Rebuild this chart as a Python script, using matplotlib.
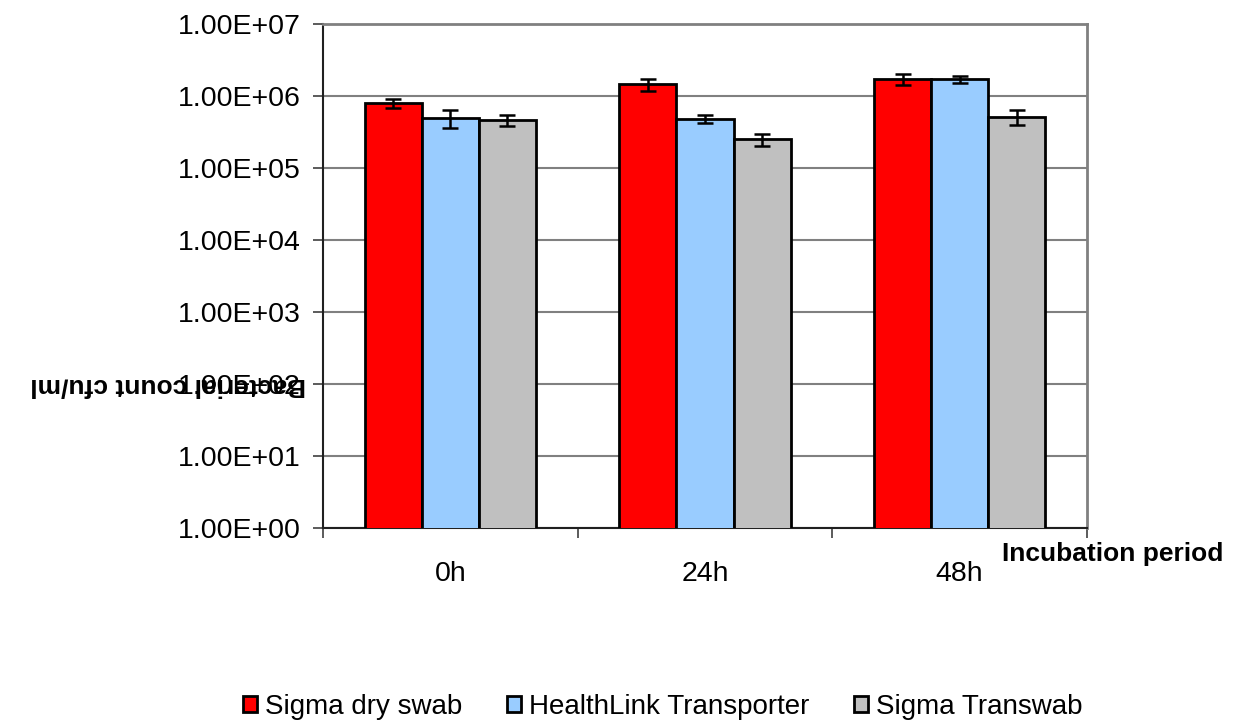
import numpy as np
import matplotlib.pyplot as plt
from matplotlib.ticker import FixedLocator, FuncFormatter, NullFormatter

plt.rcParams['font.family'] = ['Liberation Sans', 'DejaVu Sans']

# data
periods = ["0h", "24h", "48h"]
series = ["Sigma dry swab", "HealthLink Transporter", "Sigma Transwab"]
dry_swab = [8.0e5, 1.45e6, 1.72e6]
healthlink = [5.0e5, 4.8e5, 1.7e6]
transwab = [4.6e5, 2.5e5, 5.1e5]
dry_swab_err = [1.1e5, 2.7e5, 2.8e5]
healthlink_err = [1.4e5, 0.6e5, 1.8e5]
transwab_err = [0.8e5, 0.45e5, 1.2e5]
colors = ["#FF0000", "#99CCFF", "#C0C0C0"]

fig = plt.figure(figsize=(12.44, 7.24), dpi=100)
ax = fig.add_axes([323 / 1244, 1 - 528 / 724, (1087 - 323) / 1244, (528 - 24) / 724])

x = np.arange(len(periods))
width = 0.224
values = [dry_swab, healthlink, transwab]
errors = [dry_swab_err, healthlink_err, transwab_err]
for i, (vals, errs) in enumerate(zip(values, errors)):
    ax.bar(x + (i - 1) * width, vals, width, color=colors[i], edgecolor="black",
           linewidth=2, label=series[i], zorder=3)
    ax.errorbar(x + (i - 1) * width, vals, yerr=errs, fmt="none", ecolor="black",
                elinewidth=1.8, capsize=6, capthick=1.8, zorder=4)

ax.set_yscale("log")
ax.set_ylim(1, 1e7)
ax.set_xlim(-0.5, 2.5)
ax.yaxis.set_major_locator(FixedLocator([10.0 ** k for k in range(8)]))
ax.yaxis.set_minor_formatter(NullFormatter())
ax.yaxis.set_minor_locator(FixedLocator([]))
ax.yaxis.set_major_formatter(FuncFormatter(lambda v, p: "1.00E+%02d" % round(np.log10(v))))
ax.grid(axis="y", color="#808080", linewidth=1.5, zorder=0)

ax.xaxis.set_major_locator(FixedLocator([-0.5, 0.5, 1.5, 2.5]))
ax.xaxis.set_major_formatter(NullFormatter())
ax.xaxis.set_minor_locator(FixedLocator(x))
ax.set_xticklabels(periods, minor=True)
ax.tick_params(axis="x", which="major", direction="out", length=7, width=1.2, color="#404040")
ax.tick_params(axis="x", which="minor", length=0, pad=24, labelsize=20.5)
ax.tick_params(axis="y", direction="out", length=7, width=1.2, pad=9, labelsize=20.5, color="#404040")

for side in ["top", "right"]:
    ax.spines[side].set_color("#808080")
    ax.spines[side].set_linewidth(2)
for side in ["left", "bottom"]:
    ax.spines[side].set_color("#202020")
    ax.spines[side].set_linewidth(1.5)

fig.text(1113 / 1244, 1 - 554 / 724, "Incubation period", fontsize=19, fontweight="bold",
         ha="center", va="center")
fig.text(168 / 1244, 1 - 386 / 724, "Bacterial count cfu/ml", fontsize=19, fontweight="bold",
         ha="center", va="center", rotation=180)

fig.legend(loc="center", bbox_to_anchor=(663 / 1244, 1 - 707 / 724), ncol=3, frameon=False,
           fontsize=20, handlelength=0.5, handleheight=0.5, handletextpad=0.3,
           columnspacing=1.6)

plt.savefig("out.png", dpi=100)
